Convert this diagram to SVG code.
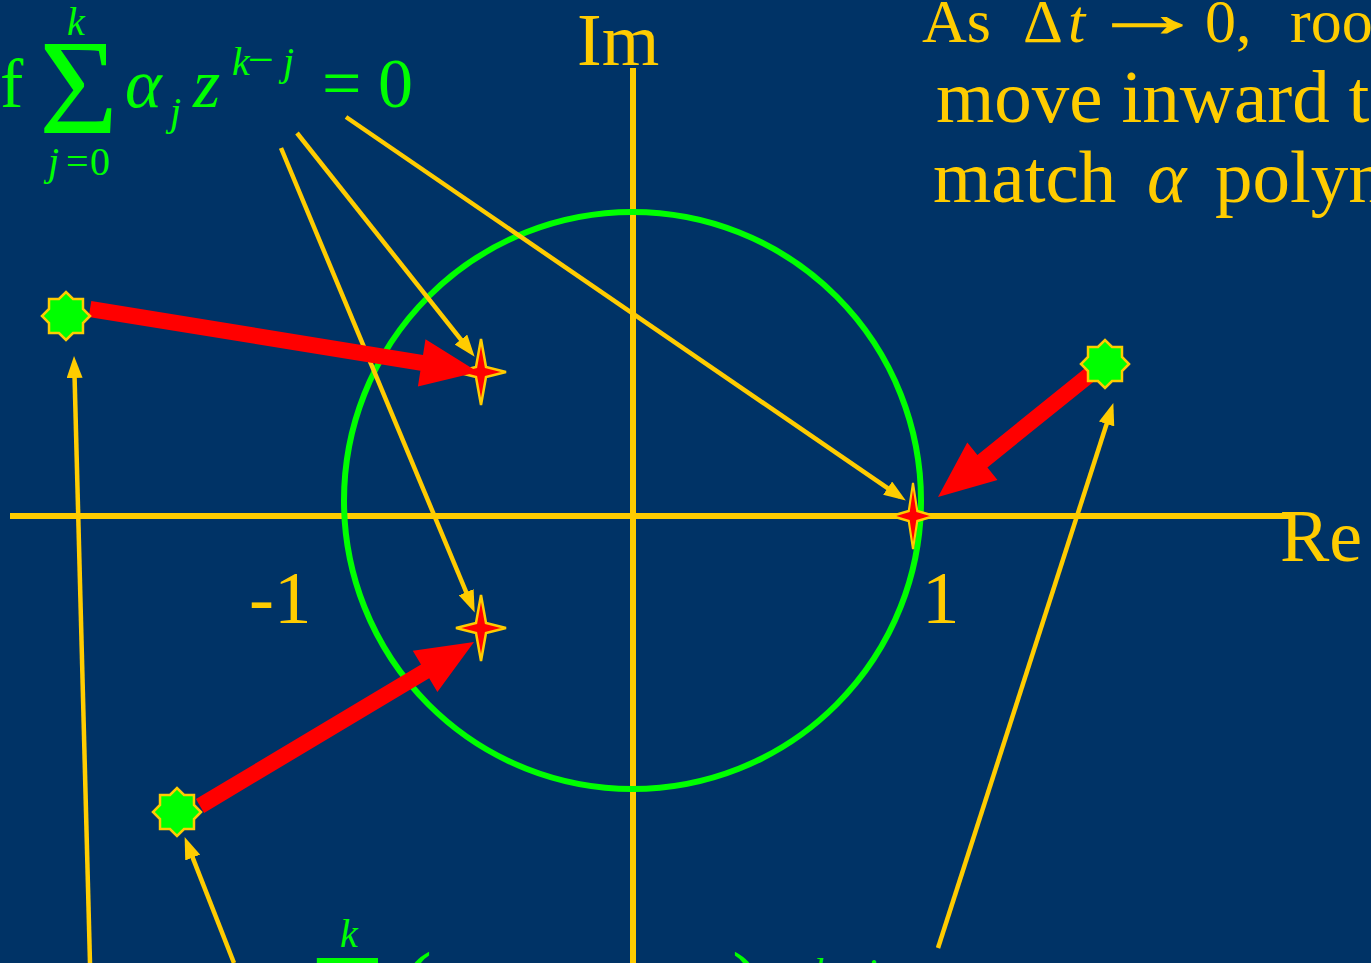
<svg xmlns="http://www.w3.org/2000/svg" xmlns:xlink="http://www.w3.org/1999/xlink" width="1371" height="963" viewBox="0 0 1371 963">
<defs>
<style>
.ax{stroke:#FFCC00;stroke-width:6;fill:none}
.circ{stroke:#00FF00;stroke-width:6;fill:none}
.ya{stroke:#FFCC00;stroke-width:4.5;fill:none;marker-end:url(#yh)}
.ra{fill:#FF0000;stroke:none}
.oct{fill:#00FF00;stroke:#FFCC00;stroke-width:2.5}
.st4{fill:#FF0000;stroke:#FFCC00;stroke-width:2.5}
.y{fill:#FFCC00;font-family:"Liberation Serif","Times New Roman",serif}
.g{fill:#00FF00;font-family:"Liberation Serif","Times New Roman",serif}
.i{font-style:italic}
</style>
<marker id="yh" markerUnits="userSpaceOnUse" markerWidth="22" markerHeight="16" refX="15" refY="8" orient="auto">
<path d="M0,0 L22,8 L0,16 z" fill="#FFCC00"/>
</marker>
<polygon id="octagram" points="24,0 17,7.04 16.97,16.97 7.04,17 0,24 -7.04,17 -16.97,16.97 -17,7.04 -24,0 -17,-7.04 -16.97,-16.97 -7.04,-17 0,-24 7.04,-17 16.97,-16.97 17,-7.04"/>
<polygon id="star4" points="0,-33 5,-5 25,0 5,5 0,33 -5,5 -25,0 -5,-5"/>
</defs>
<rect width="1371" height="963" fill="#003366"/>
<g id="axes">
<line class="ax" x1="10" y1="516" x2="1292" y2="516"/>
<line class="ax" x1="633" y1="68" x2="633" y2="963"/>
</g>
<g id="unit-circle">
<circle class="circ" cx="632.5" cy="500.5" r="288.5"/>
</g>
<g id="root-upper">
<use xlink:href="#star4" class="st4" transform="translate(481,372)"/>
</g>
<g id="root-lower">
<use xlink:href="#star4" class="st4" transform="translate(481,628)"/>
</g>
<g id="root-one">
<use xlink:href="#star4" class="st4" transform="translate(913,516) scale(0.85,1)"/>
</g>
<g id="connectors">
<line class="ya" x1="281" y1="148" x2="472" y2="606"/>
<line class="ya" x1="297" y1="133" x2="470.3" y2="351.3"/>
<line class="ya" x1="346" y1="117" x2="900" y2="496.6"/>
<line class="ya" x1="90" y1="963" x2="74.2" y2="363"/>
<line class="ya" x1="234" y1="963" x2="187.2" y2="843.6"/>
<line class="ya" x1="938" y1="948" x2="1111.2" y2="409.7"/>
<polygon class="ra" points="91.3,301.1 423,355 425.5,339.2 478,372 417.9,386.6 420.4,370.8 88.7,316.9"/>
<polygon class="ra" points="195.9,799.1 421,664.4 412.8,650.7 474,642 437.4,691.9 429.2,678.2 204.1,812.9"/>
<polygon class="ra" points="1088,365.8 977.4,455 967.3,442.5 938,497 997.5,479.9 987.4,467.4 1098,378.2"/>
</g>
<g id="pole-left">
<use xlink:href="#octagram" class="oct" transform="translate(66,316)"/>
</g>
<g id="pole-right">
<use xlink:href="#octagram" class="oct" transform="translate(1105,364)"/>
</g>
<g id="pole-bottom">
<use xlink:href="#octagram" class="oct" transform="translate(177,812)"/>
</g>
<g id="axis-labels">
<text class="y" x="577" y="65" font-size="74">Im</text>
<text class="y" x="1280" y="561" font-size="74">Re</text>
<text class="y" x="249" y="623" font-size="75">-1</text>
<text class="y" x="922" y="623" font-size="75">1</text>
</g>
<g id="formula-alpha">
<text class="g" x="0" y="107" font-size="70">f</text>
<text class="g" x="39" y="133" font-size="136">Σ</text>
<text class="g i" x="67" y="35" font-size="40">k</text>
<text class="g" y="175" font-size="40"><tspan class="i" x="48">j</tspan><tspan x="66">=</tspan><tspan x="90">0</tspan></text>
<text class="g i" x="125" y="107" font-size="70">α</text>
<text class="g i" x="170" y="125" font-size="40">j</text>
<text class="g i" x="193" y="107" font-size="70">z</text>
<text class="g" y="75" font-size="40"><tspan class="i" x="232">k</tspan><tspan x="248" font-size="46">−</tspan><tspan class="i" x="283">j</tspan></text>
<text class="g" x="322" y="107" font-size="70">=</text>
<text class="g" x="378" y="107" font-size="70">0</text>
</g>
<g id="formula-bottom">
<text class="g i" x="340" y="947" font-size="40">k</text>
<text class="g" x="311" y="1047" font-size="136">Σ</text>
<text class="g" x="402" y="1015" font-size="90">(</text>
<text class="g" x="732" y="1015" font-size="90">)</text>
<text class="g" y="986" font-size="40"><tspan class="i" x="814">k</tspan><tspan x="832" font-size="46">−</tspan><tspan class="i" x="866">j</tspan></text>
</g>
<g id="note">
<text class="y" y="42" font-size="62"><tspan x="922">As</tspan><tspan x="1023">Δ</tspan><tspan class="i" x="1068">t</tspan></text>
<text class="y" x="0" y="0" font-size="66" stroke="#FFCC00" stroke-width="1.2" transform="translate(1090,36) scale(1.75,1)">→</text>
<text class="y" y="42" font-size="62"><tspan x="1205">0,</tspan><tspan x="1290">roots</tspan></text>
<text class="y" x="936" y="122" font-size="75">move inward to</text>
<text class="y" y="202" font-size="75"><tspan x="933">match</tspan><tspan class="i" x="1147">α</tspan><tspan x="1215">polynomial</tspan></text>
</g>
</svg>
